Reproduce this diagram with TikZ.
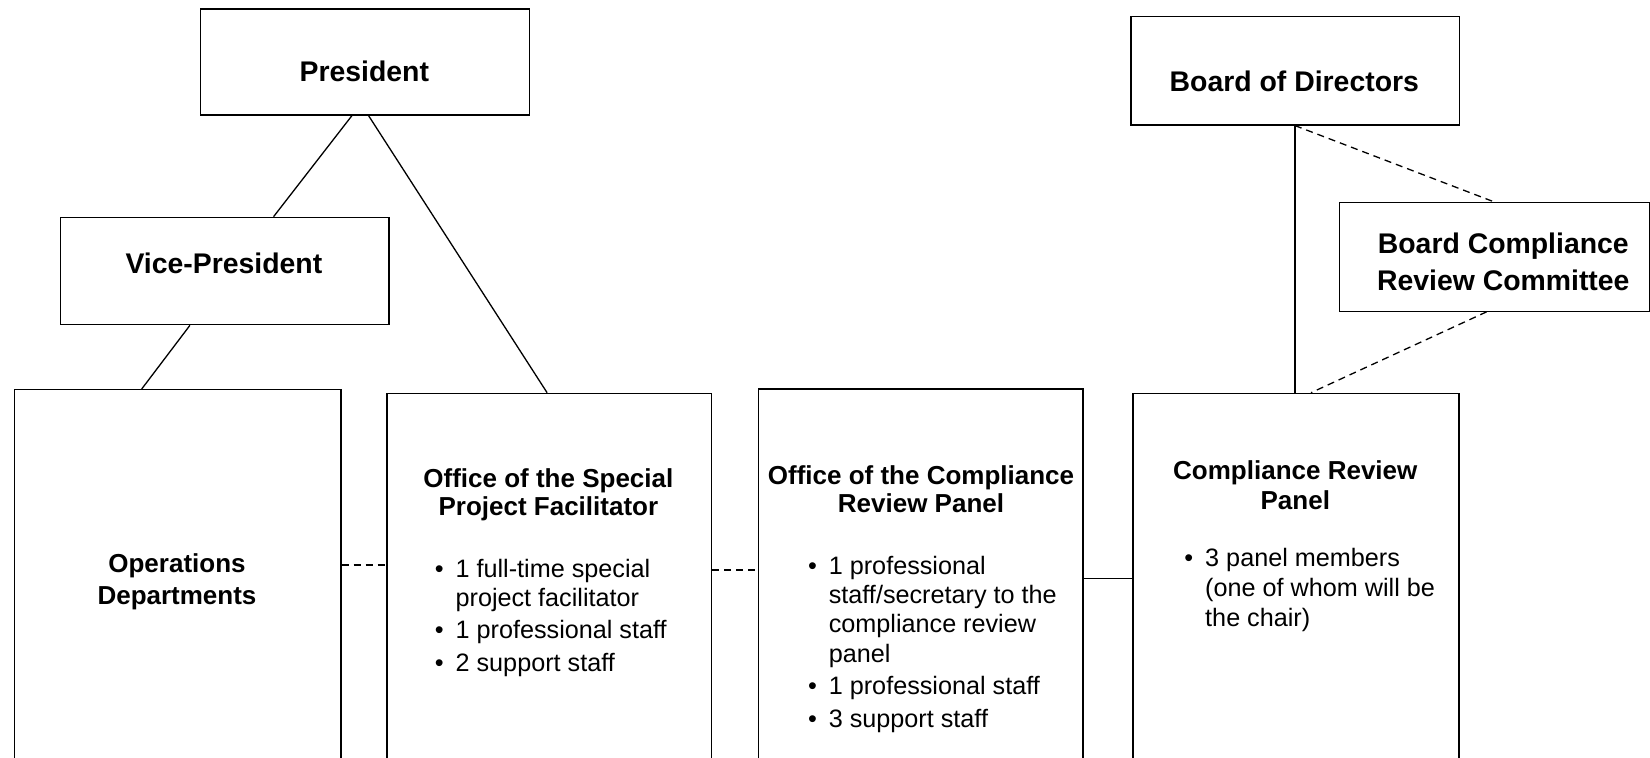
\documentclass[tikz,border=0pt]{standalone}
\usepackage{fontspec}
\setmainfont{Liberation Sans}
\usetikzlibrary{calc}
\newcommand\orgbox[5]{%
  \node[box, minimum width={(#4-#2)*0.5pt}, minimum height={(#5-#3)*0.5pt}] (#1) at (#2,#3) {};}
\newcommand\bodyfont{\fontsize{12.6}{14.7}\selectfont}
\begin{document}
\begin{tikzpicture}[x=0.5pt,y=-0.5pt,
  box/.style={draw, line width=0.65pt, inner sep=0, anchor=north west},
  link/.style={line width=0.65pt},
  dlink/.style={line width=0.65pt, dash pattern=on 3.5pt off 2.5pt},
  toptitle/.style={font=\fontsize{14.2}{17}\selectfont\bfseries, anchor=base, inner sep=0},
  secttitle/.style={anchor=base, inner sep=0},
  bullets/.style={anchor=base west, inner sep=0}]
\useasboundingbox (0,0) rectangle (1650,757);
\fill[white] (0,0) rectangle (1650,757);
\clip (0,0) rectangle (1650,757);

% boxes
\orgbox{pres}{200}{8.3}{528.6}{114.3}
\orgbox{vp}{59.6}{216.7}{388.2}{324}
\orgbox{ops}{13.8}{389}{340.3}{800}
\orgbox{spf}{386.2}{392.7}{710.7}{800}
\orgbox{ocrp}{757.5}{388.3}{1082.4}{800}
\orgbox{crp}{1132.3}{392.7}{1458.4}{800}
\orgbox{bod}{1130.2}{16}{1458.5}{124.3}
\orgbox{bcrc}{1338.5}{201.7}{1648.5}{310.5}

% titles
\node[toptitle] (presT) at (364.3,81.7) {President};
\node[toptitle] (vpT) at (223.9,273) {Vice-President};
\node[toptitle] (bodT) at (1294.3,91.7) {Board of Directors};
\node[toptitle] (bcrcT) at (1503.3,253.3) {\fontsize{14.2}{18.7}\selectfont
  \begin{tabular}[t]{@{}c@{}}Board Compliance\\ Review Committee\end{tabular}};

\node[secttitle] (opsT) at (177,572.5) {\fontsize{13}{16.2}\selectfont\bfseries
  \begin{tabular}[t]{@{}c@{}}Operations\\ Departments\end{tabular}};
\node[secttitle] (spfT) at (548.4,487) {\fontsize{13}{14.2}\selectfont\bfseries
  \begin{tabular}[t]{@{}c@{}}Office of the Special\\ Project Facilitator\end{tabular}};
\node[secttitle] (ocrpT) at (921,484.5) {\fontsize{13}{13.8}\selectfont\bfseries
  \begin{tabular}[t]{@{}c@{}}Office of the Compliance\\ Review Panel\end{tabular}};
\node[secttitle] (crpT) at (1295.3,479) {\fontsize{13}{15.2}\selectfont\bfseries
  \begin{tabular}[t]{@{}c@{}}Compliance Review\\ Panel\end{tabular}};

% staffing lists
\node[bullets] (spfL) at (434.4,577) {\bodyfont
  \begin{tabular}[t]{@{}l@{\hspace{6pt}}l@{}}
  •&1 full-time special\\
   &project facilitator\\[1.5pt]
  •&1 professional staff\\[1.5pt]
  •&2 support staff
  \end{tabular}};
\node[bullets] (ocrpL) at (807.6,574) {\bodyfont
  \begin{tabular}[t]{@{}l@{\hspace{6pt}}l@{}}
  •&1 professional\\
   &staff/secretary to the\\
   &compliance review\\
   &panel\\[1.5pt]
  •&1 professional staff\\[1.5pt]
  •&3 support staff
  \end{tabular}};
\node[bullets] (crpL) at (1184,566) {\fontsize{12.6}{15.2}\selectfont
  \begin{tabular}[t]{@{}l@{\hspace{6pt}}l@{}}
  •&3 panel members\\
   &(one of whom will be\\
   &the chair)
  \end{tabular}};

% reporting lines
\draw[link] ($(pres.south)+(-13,0)$) -- ($(vp.north)+(49,0)$);
\draw[link] ($(pres.south)+(3.6,0)$) -- ($(spf.north)+(-2,0)$);
\draw[link] ($(vp.south)+(-34.6,0)$) -- ($(ops.north)+(-36,0)$);
\draw[link] (bod.south) -- (bod.south |- crp.north);
\draw[dlink] (bod.south) -- ($(bcrc.north)+(-0.5,0)$);
\draw[dlink] ($(bcrc.south)+(-7.5,0)$) -- ($(crp.north)+(15,0)$);

% links between the offices
\coordinate (opsR) at ($(ops.north east)+(0,176)$);
\coordinate (spfR) at ($(spf.north east)+(0,177.3)$);
\coordinate (ocrpR) at ($(ocrp.north east)+(0,190)$);
\draw[dlink] (opsR) -- (opsR -| spf.west);
\draw[dlink] (spfR) -- (spfR -| ocrp.west);
\draw[link] (ocrpR) -- (ocrpR -| crp.west);
\end{tikzpicture}
\end{document}
